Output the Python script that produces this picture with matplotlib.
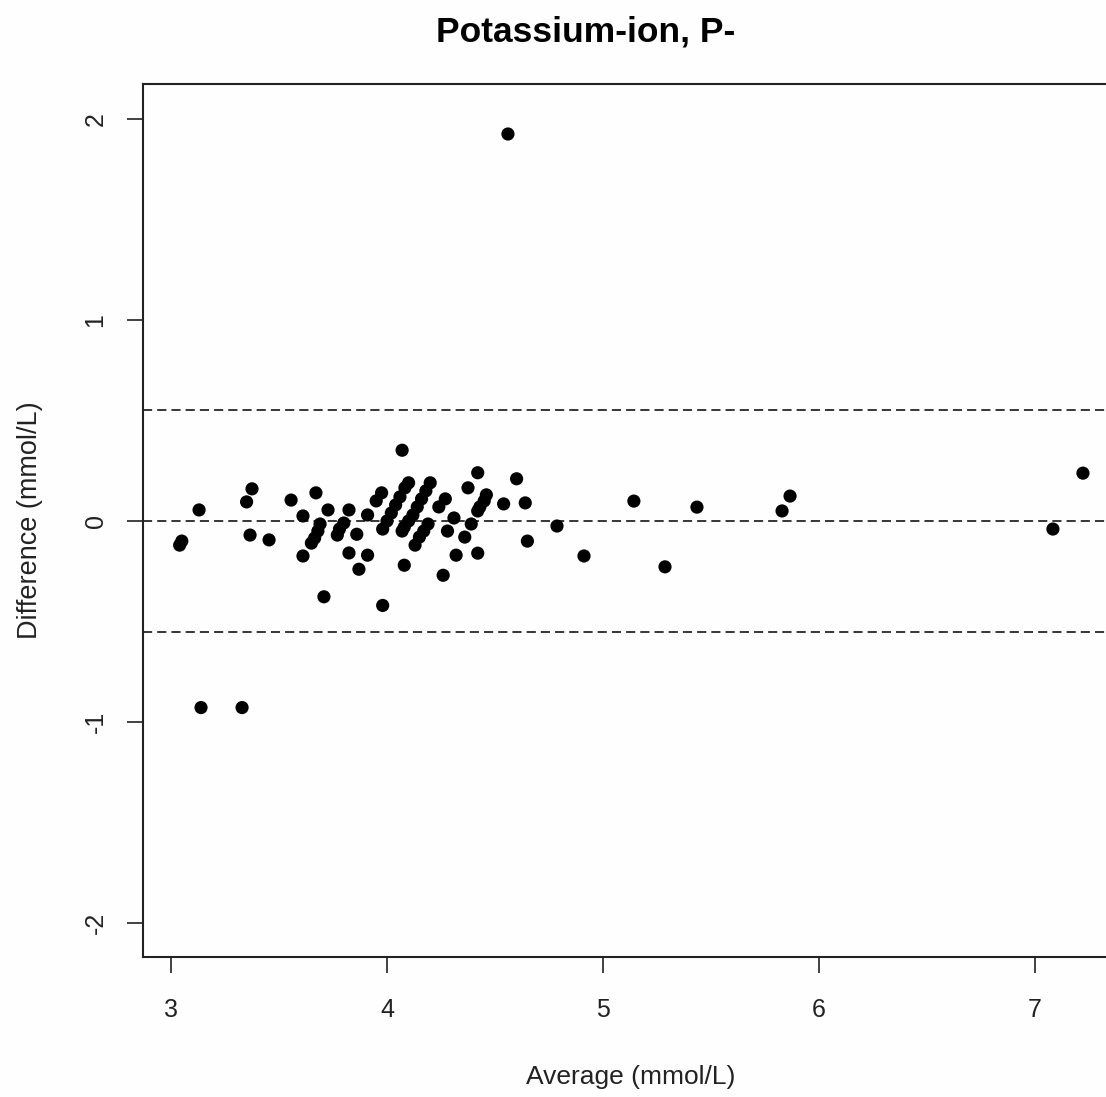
import matplotlib
matplotlib.use("Agg")
import matplotlib.pyplot as plt
import numpy as np

# Bland-Altman style data: average vs difference (mmol/L)
avg = [3.04, 3.05, 3.13, 3.375, 3.35, 3.366, 3.454, 3.556, 3.671, 3.611,
       3.727, 3.824, 3.69, 3.68, 3.665, 3.65, 3.611, 3.708, 3.80, 3.78,
       3.77, 3.824, 3.86, 3.87, 4.07, 3.91, 3.91, 3.98, 3.975, 3.95,
       4.083, 4.06, 4.04, 4.02, 4.00, 3.98, 4.10, 4.20, 4.18, 4.16,
       4.14, 4.12, 4.10, 4.08, 4.07, 4.19, 4.17, 4.15, 4.13, 4.08,
       4.27, 4.24, 4.26, 4.31, 4.28, 4.32, 4.36, 4.39, 4.42, 4.375,
       4.46, 4.45, 4.43, 4.42, 4.42, 4.54, 4.60, 4.64, 4.65, 4.56,
       4.787, 4.912, 5.143, 5.287, 5.435, 5.829, 5.866, 7.083, 7.222,
       3.139, 3.329]
diff = [-0.12, -0.10, 0.055, 0.16, 0.095, -0.07, -0.094, 0.104, 0.14, 0.025,
        0.055, 0.055, -0.015, -0.05, -0.085, -0.11, -0.174, -0.377, -0.01, -0.04,
        -0.07, -0.159, -0.066, -0.24, 0.352, 0.03, -0.17, -0.42, 0.14, 0.10,
        0.165, 0.12, 0.08, 0.04, 0.0, -0.04, 0.19, 0.19, 0.15, 0.11,
        0.07, 0.03, 0.0, -0.03, -0.05, -0.015, -0.05, -0.08, -0.12, -0.22,
        0.11, 0.07, -0.27, 0.015, -0.05, -0.17, -0.08, -0.015, 0.24, 0.165,
        0.13, 0.10, 0.07, 0.05, -0.16, 0.085, 0.21, 0.09, -0.10, 1.925,
        -0.025, -0.174, 0.099, -0.228, 0.069, 0.05, 0.124, -0.04, 0.238,
        -0.928, -0.928]

mean_diff = 0.0
limits = [-0.55, 0.55]
xticks = [3, 4, 5, 6, 7]
yticks = [-2, -1, 0, 1, 2]

FONT = "Liberation Sans"
TXT = "#222222"

W, H = 1106, 1097
fig = plt.figure(figsize=(W / 100, H / 100), dpi=100)
fig.patch.set_facecolor("#fdfefd")
ax = fig.add_axes([143 / W, (H - 957) / H, (1112 - 143) / W, (957 - 84) / H])
ax.set_facecolor("#fdfefd")

ax.scatter(avg, diff, s=90, c="black", edgecolors="none", zorder=3)

dash = (0, (6, 3.3))
ax.axhline(mean_diff, color="black", lw=1.1, ls=dash)
for lim in limits:
    ax.axhline(lim, color="black", lw=1.1, ls=dash)

ax.set_xlim(3 + (143 - 171) / 216, 3 + (1112 - 171) / 216)
ax.set_ylim(-2 - 34 / 201.5, 2 + 35 / 201.5)

ax.set_xticks(xticks)
ax.set_xticklabels([str(t) for t in xticks], family=FONT, fontsize=18, color=TXT)
ax.set_yticks(yticks)
ax.set_yticklabels([str(t) for t in yticks], rotation=90, va="center",
                   family=FONT, fontsize=18, color=TXT)
ax.tick_params(axis="both", length=11.5, width=1.3, color="#333333")
ax.tick_params(axis="x", pad=18)
ax.tick_params(axis="y", pad=14)
for sp in ax.spines.values():
    sp.set_linewidth(1.5)
    sp.set_color("#222222")

fig.text(631 / W, 1 - 1077 / H, "Average (mmol/L)", ha="center", va="center",
         fontsize=19, family=FONT, color=TXT)
fig.text(30 / W, 1 - 520 / H, "Difference (mmol/L)", ha="center", va="center",
         rotation=90, fontsize=19.5, family=FONT, color=TXT)
fig.text(586 / W, 1 - 32 / H, "Potassium-ion, P-", ha="center", va="center",
         fontsize=25.5, fontweight="bold", family=FONT)

fig.savefig("out.png", dpi=100, facecolor=fig.get_facecolor())
